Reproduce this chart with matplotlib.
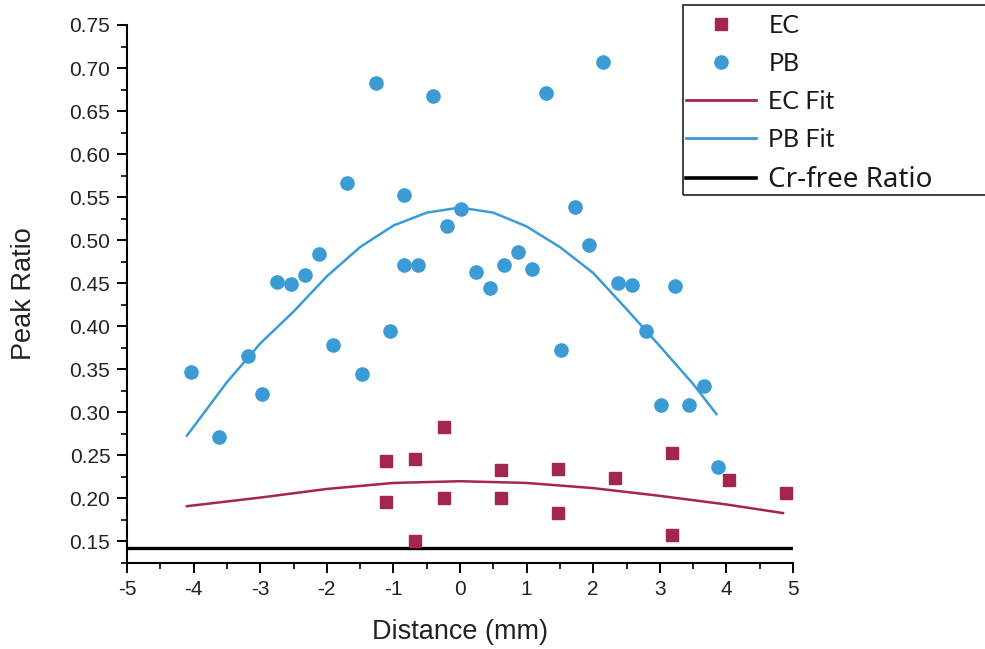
import matplotlib
matplotlib.use('Agg')
from matplotlib import pyplot as plt
import matplotlib.lines as mlines
import matplotlib.patches as mpatches
from matplotlib.ticker import MultipleLocator

# PB scatter (distance in mm, peak ratio)
pb_x = [-4.04, -3.62, -3.18, -2.97, -2.75, -2.54, -2.33, -2.12, -1.91, -1.70,
        -1.47, -1.26, -1.05, -0.84, -0.84, -0.63, -0.41, -0.20, 0.02, 0.24,
        0.45, 0.66, 0.87, 1.08, 1.29, 1.52, 1.73, 1.94, 2.15, 2.37,
        2.58, 2.79, 3.02, 3.23, 3.44, 3.66, 3.87]
pb_y = [0.347, 0.271, 0.366, 0.321, 0.451, 0.449, 0.460, 0.484, 0.378, 0.567,
        0.345, 0.683, 0.395, 0.553, 0.471, 0.471, 0.667, 0.517, 0.536, 0.463,
        0.445, 0.471, 0.486, 0.467, 0.671, 0.373, 0.538, 0.495, 0.707, 0.450,
        0.448, 0.395, 0.308, 0.447, 0.308, 0.331, 0.237]

# EC scatter
ec_x = [-1.11, -1.11, -0.68, -0.68, -0.24, -0.24, 0.62, 0.62, 1.47, 1.47,
        2.33, 3.18, 3.18, 4.04, 4.89]
ec_y = [0.243, 0.196, 0.246, 0.150, 0.283, 0.201, 0.233, 0.200, 0.234, 0.183,
        0.224, 0.253, 0.157, 0.222, 0.206]

# fit curves
pb_fit_x = [-4.1, -3.5, -3.0, -2.5, -2.0, -1.5, -1.0, -0.5, 0.0, 0.5,
            1.0, 1.5, 2.0, 2.5, 3.0, 3.5, 3.85]
pb_fit_y = [0.273, 0.335, 0.380, 0.417, 0.458, 0.492, 0.517, 0.532, 0.538, 0.532,
            0.516, 0.492, 0.462, 0.420, 0.377, 0.333, 0.298]
ec_fit_x = [-4.1, -3.0, -2.0, -1.0, 0.0, 1.0, 2.0, 3.0, 4.0, 4.85]
ec_fit_y = [0.191, 0.201, 0.211, 0.218, 0.220, 0.218, 0.212, 0.203, 0.193, 0.183]

cr_free_ratio = 0.142

x_ticks = [-5, -4, -3, -2, -1, 0, 1, 2, 3, 4, 5]
y_ticks = [0.15, 0.20, 0.25, 0.30, 0.35, 0.40, 0.45, 0.50, 0.55, 0.60, 0.65, 0.70, 0.75]

ec_color = '#A3264F'
pb_color = '#3A9BD5'

plt.rcParams['font.family'] = ['Liberation Sans', 'DejaVu Sans']

fig = plt.figure(figsize=(9.85, 6.49), dpi=100)
ax = fig.add_axes([127 / 985, 86 / 649, 666 / 985, 538 / 649])

ax.plot(ec_fit_x, ec_fit_y, color=ec_color, linewidth=1.8, zorder=2)
ax.plot(pb_fit_x, pb_fit_y, color=pb_color, linewidth=1.8, zorder=2)
ax.axhline(cr_free_ratio, color='black', linewidth=2.4, zorder=2)
ax.plot(ec_x, ec_y, linestyle='none', marker='s', markersize=8.5,
        color=ec_color, zorder=3)
ax.plot(pb_x, pb_y, linestyle='none', marker='o', markersize=9.5,
        color=pb_color, zorder=3)

ax.set_xlim(-5, 5)
ax.set_ylim(0.125, 0.75)
ax.set_xticks(x_ticks)
ax.set_xticklabels(['%d' % v for v in x_ticks])
ax.set_yticks(y_ticks)
ax.set_yticklabels(['%.2f' % v for v in y_ticks])
ax.xaxis.set_minor_locator(MultipleLocator(0.5))
ax.yaxis.set_minor_locator(MultipleLocator(0.025))

for side in ['top', 'right']:
    ax.spines[side].set_visible(False)
for side in ['left', 'bottom']:
    ax.spines[side].set_linewidth(1.5)
ax.tick_params(which='major', direction='out', length=7, width=1.4,
               labelsize=15, labelcolor='#222222', pad=5)
ax.tick_params(which='minor', direction='out', length=4, width=1.2)

ax.set_xlabel('Distance (mm)', fontsize=19.5, color='#222222')
ax.set_ylabel('Peak Ratio', fontsize=19.5, color='#222222')
ax.xaxis.set_label_coords(0.5, -0.105)
ax.yaxis.set_label_coords(-0.135, 0.5)

# Legend
ec_h = mlines.Line2D([], [], color=ec_color, marker='s', markersize=8.5, linestyle='none')
pb_h = mlines.Line2D([], [], color=pb_color, marker='o', markersize=9.5, linestyle='none')
ec_fit_h = mlines.Line2D([], [], color=ec_color, linewidth=2)
pb_fit_h = mlines.Line2D([], [], color=pb_color, linewidth=2)
cr_h = mlines.Line2D([], [], color='black', linewidth=2.6)
leg = fig.legend(handles=[ec_h, pb_h, ec_fit_h, pb_fit_h, cr_h],
                 labels=['EC', 'PB', 'EC Fit', 'PB Fit', 'Cr-free Ratio'],
                 loc='upper left', bbox_to_anchor=(686 / 985, 1 - 14 / 649),
                 frameon=False, borderpad=0, borderaxespad=0,
                 handlelength=2.8, handletextpad=0.5, labelspacing=0.6,
                 prop={'family': 'Lato', 'size': 18})
leg_texts = leg.get_texts()
leg_texts[-1].set_fontfamily('Noto Sans')
leg_texts[-1].set_fontsize(20)
for t in leg_texts:
    t.set_color('#1a1a1a')

fig.patches.append(mpatches.Rectangle((683 / 985, 1 - 195 / 649), 320 / 985, 190 / 649,
                                      transform=fig.transFigure, fill=False,
                                      edgecolor='#333333', linewidth=1.3))

fig.savefig('out.png', dpi=100)
